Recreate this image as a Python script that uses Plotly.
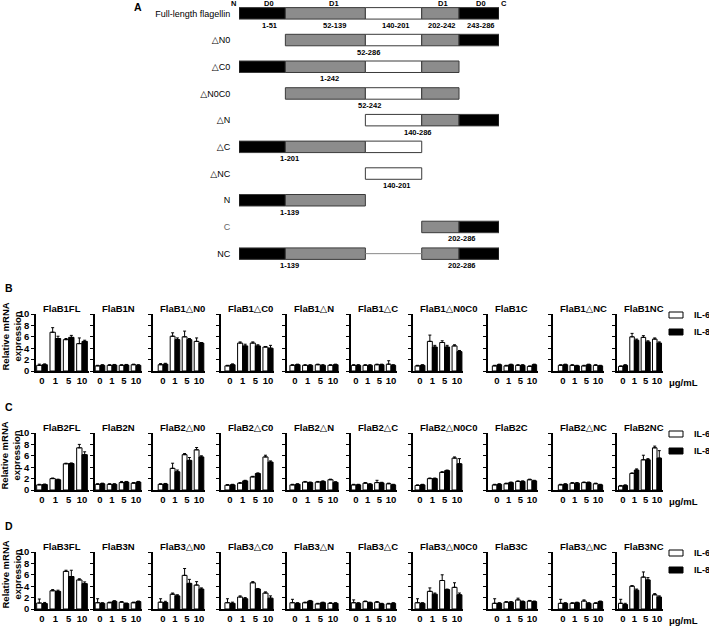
import plotly.graph_objects as go

W, H = 709, 628

# ---------------- Panel A data ----------------
domain_starts = [0, 51, 139, 201, 242]
domain_ends = [51, 139, 201, 242, 286]
domain_colors = ["#000000", "#8c8c8c", "#ffffff", "#8c8c8c", "#000000"]
header_labels = ["D0", "D1", "D1", "D0"]
header_x = [33, 104, 224, 266]

construct_labels = ["Full-length flagellin", "△N0", "△C0", "△N0C0", "△N",
                    "△C", "△NC", "N", "C", "NC"]
construct_domains = [[0, 1, 2, 3, 4], [1, 2, 3, 4], [0, 1, 2, 3], [1, 2, 3], [2, 3, 4],
                     [0, 1, 2], [2], [0, 1], [3, 4], [0, 1, 3, 4]]
range_labels = [["1-51", "52-139", "140-201", "202-242", "243-286"], ["52-286"], ["1-242"],
                ["52-242"], ["140-286"], ["1-201"], ["140-201"], ["1-139"], ["202-286"],
                ["1-139", "202-286"]]
range_label_x = [[34, 105, 173, 223, 266], [142], [99], [143], [197], [55], [174], [56],
                 [245], [56, 245]]

# ---------------- Panels B-D data ----------------
concentrations = ["0", "1", "5", "10"]
construct_names = ["FL", "N", "△N0", "△C0", "△N", "△C", "△N0C0", "C", "△NC", "NC"]
flagellins = ["FlaB1", "FlaB2", "FlaB3"]
panel_letters = ["B", "C", "D"]
series_names = ["IL-6", "IL-8"]

flab1_il6 = [[1.0, 6.8, 5.5, 4.8], [0.9, 1.0, 1.0, 1.1], [1.1, 6.1, 6.0, 5.2], [0.9, 4.9, 4.9, 4.2],
             [1.0, 1.0, 1.1, 1.0], [1.0, 1.0, 1.1, 1.2], [0.9, 5.2, 5.0, 4.4], [0.9, 0.9, 1.0, 0.8],
             [1.0, 1.0, 0.9, 1.0], [0.8, 6.0, 5.9, 5.6]]
flab1_il8 = [[1.1, 5.7, 5.9, 5.2], [1.0, 1.05, 1.05, 1.0], [1.2, 5.5, 5.5, 4.9], [1.1, 4.4, 4.4, 4.0],
             [1.1, 1.0, 1.0, 1.1], [1.0, 1.0, 1.1, 1.0], [1.0, 4.2, 4.2, 3.4], [1.1, 1.1, 1.0, 1.1],
             [1.1, 0.9, 1.1, 0.9], [1.0, 5.4, 5.1, 4.9]]
flab1_il6_err = [[0.2, 0.8, 0.2, 1.0], [0.1, 0.1, 0.1, 0.1], [0.2, 0.6, 1.0, 0.6], [0.1, 0.2, 0.2, 0.1],
                 [0.1, 0.1, 0.1, 0.1], [0.1, 0.1, 0.1, 0.6], [0.1, 1.1, 0.3, 0.2], [0.1, 0.1, 0.1, 0.1],
                 [0.1, 0.1, 0.1, 0.1], [0.1, 0.6, 0.3, 0.2]]
flab1_il8_err = [[0.15, 0.4, 0.35, 0.2], [0.1, 0.1, 0.1, 0.1], [0.15, 0.3, 0.2, 0.1], [0.15, 0.3, 0.2, 0.5],
                 [0.1, 0.1, 0.1, 0.1], [0.1, 0.1, 0.1, 0.1], [0.1, 0.3, 0.3, 0.2], [0.1, 0.1, 0.1, 0.1],
                 [0.1, 0.1, 0.1, 0.1], [0.1, 0.2, 0.2, 0.2]]

flab2_il6 = [[0.9, 2.0, 4.6, 7.4], [1.0, 1.0, 1.3, 1.2], [1.0, 3.8, 6.2, 7.05], [0.85, 1.2, 2.3, 5.8],
             [0.9, 1.4, 1.4, 1.8], [0.9, 1.2, 1.3, 1.1], [0.8, 2.0, 3.1, 5.6], [0.9, 1.1, 1.5, 1.8],
             [0.9, 1.2, 1.3, 1.1], [0.7, 2.9, 5.3, 7.4]]
flab2_il8 = [[0.95, 1.8, 4.65, 6.2], [1.1, 1.0, 1.4, 1.4], [1.05, 3.2, 5.2, 5.8], [0.9, 1.6, 2.9, 4.9],
             [1.0, 1.3, 1.5, 1.35], [0.9, 1.0, 1.25, 0.9], [0.9, 2.0, 3.4, 4.6], [1.0, 1.3, 1.5, 1.6],
             [1.0, 1.2, 1.3, 0.9], [0.8, 3.5, 5.3, 5.6]]
flab2_il6_err = [[0.1, 0.1, 0.1, 0.6], [0.1, 0.1, 0.2, 0.1], [0.1, 0.9, 0.2, 0.4], [0.1, 0.1, 0.1, 0.3],
                 [0.1, 0.1, 0.1, 0.1], [0.1, 0.1, 0.4, 0.1], [0.1, 0.1, 0.1, 0.2], [0.1, 0.1, 0.1, 0.1],
                 [0.1, 0.1, 0.1, 0.1], [0.1, 0.1, 0.8, 0.3]]
flab2_il8_err = [[0.1, 0.1, 0.1, 0.5], [0.1, 0.1, 0.1, 0.1], [0.1, 0.3, 0.5, 0.2], [0.1, 0.1, 0.1, 0.2],
                 [0.1, 0.1, 0.1, 0.1], [0.1, 0.1, 0.1, 0.1], [0.1, 0.1, 0.1, 0.9], [0.1, 0.1, 0.1, 0.1],
                 [0.1, 0.1, 0.1, 0.1], [0.1, 0.2, 0.2, 1.3]]

flab3_il6 = [[1.05, 3.2, 6.6, 5.1], [1.1, 1.1, 1.2, 1.1], [1.2, 2.6, 5.9, 4.2], [1.1, 2.1, 4.6, 2.8],
             [1.1, 1.1, 0.9, 1.0], [1.1, 1.3, 1.2, 0.9], [1.1, 3.1, 5.0, 3.8], [1.0, 1.2, 1.6, 1.4],
             [1.0, 1.0, 1.4, 1.0], [1.0, 4.0, 5.6, 2.5]]
flab3_il8 = [[0.95, 3.1, 5.7, 4.45], [1.0, 1.35, 0.95, 1.3], [1.15, 2.3, 4.5, 3.5], [1.0, 1.8, 3.5, 1.9],
             [1.0, 1.4, 1.1, 1.0], [1.0, 1.1, 0.9, 1.0], [1.0, 2.6, 3.4, 2.5], [1.0, 1.2, 1.3, 1.3],
             [1.0, 1.1, 1.0, 1.3], [0.8, 3.3, 5.1, 2.1]]
flab3_il6_err = [[0.7, 0.2, 0.2, 0.2], [0.7, 0.1, 0.1, 0.1], [0.6, 0.2, 1.2, 0.6], [0.7, 0.2, 0.2, 0.2],
                 [0.6, 0.1, 0.1, 0.1], [0.5, 0.1, 0.1, 0.1], [0.7, 0.6, 1.0, 0.8], [0.8, 0.1, 0.3, 0.1],
                 [0.7, 0.1, 0.2, 0.1], [0.7, 0.1, 0.9, 0.2]]
flab3_il8_err = [[0.2, 0.2, 1.1, 0.3], [0.1, 0.1, 0.1, 0.1], [0.2, 0.2, 0.7, 0.2], [0.2, 0.2, 0.1, 0.4],
                 [0.1, 0.1, 0.1, 0.1], [0.1, 0.1, 0.1, 0.1], [0.1, 0.2, 0.1, 0.3], [0.1, 0.1, 0.1, 0.1],
                 [0.1, 0.1, 0.1, 0.1], [0.2, 0.2, 0.4, 0.2]]

il6_rows = [flab1_il6, flab2_il6, flab3_il6]
il8_rows = [flab1_il8, flab2_il8, flab3_il8]
il6_err_rows = [flab1_il6_err, flab2_il6_err, flab3_il6_err]
il8_err_rows = [flab1_il8_err, flab2_il8_err, flab3_il8_err]

# ---------------- layout helpers (pixel geometry) ----------------
def fx(p):
    return p / W


def fy(p):
    return 1 - p / H


FONT = "Liberation Sans, Arial, DejaVu Sans"
BOLD = dict(family=FONT, color="black", weight="bold")

col_axis = [36, 95, 153, 221, 287, 351, 413, 488, 553, 617]
col_first = [42, 100, 163, 230, 295, 356, 420, 497, 563, 623]
col_last = [82, 136, 199, 268, 333, 391, 457, 532, 598, 657]
row_top = [314, 433, 552]      # pixel of value 10
row_bottom = [371, 490, 609]   # pixel of value 0

fig = go.Figure()
annotations = []
shapes = []

# ---------------- Panel A ----------------
for d in range(5):
    ys = [construct_labels[i] for i, doms in enumerate(construct_domains) if d in doms]
    fig.add_trace(go.Bar(
        orientation="h", y=ys, x=[domain_ends[d] - domain_starts[d]] * len(ys),
        base=[domain_starts[d]] * len(ys), width=0.43,
        marker=dict(color=domain_colors[d], line=dict(color="#3a3a3a", width=1)),
        xaxis="x", yaxis="y", showlegend=False, hoverinfo="skip"))
fig.add_trace(go.Scatter(x=[domain_ends[1], domain_starts[3]], y=["NC", "NC"], mode="lines",
                         line=dict(color="#8a8a8a", width=1), xaxis="x", yaxis="y",
                         showlegend=False, hoverinfo="skip"))

tick_text = [("<span style='color:#666'>C</span>" if c == "C" else c) for c in construct_labels]
fig.update_layout(
    xaxis=dict(domain=[fx(239), fx(499)], range=[0, 286], visible=False, anchor="y"),
    yaxis=dict(domain=[fy(267), fy(0)], type="category", categoryarray=construct_labels,
               range=[9.5, -0.5], showline=False, showgrid=False, zeroline=False,
               tickvals=construct_labels, ticktext=tick_text, ticks="outside", ticklen=6,
               tickcolor="rgba(0,0,0,0)", tickfont=dict(family=FONT, size=9, color="black"),
               anchor="x", automargin=False),
)
for i, labs in enumerate(range_labels):
    for lab, xpos in zip(labs, range_label_x[i]):
        annotations.append(dict(text=lab, x=xpos, y=construct_labels[i], xref="x", yref="y",
                                yshift=-12, showarrow=False, font=dict(BOLD, size=7.5)))
for lab, xpos in zip(header_labels, header_x):
    annotations.append(dict(text=lab, x=xpos, y=fy(4), xref="x", yref="paper",
                            xanchor="center", yanchor="middle",
                            showarrow=False, font=dict(BOLD, size=7.5)))
for lab, px in (("N", 233), ("C", 504)):
    annotations.append(dict(text=lab, x=fx(px), y=fy(4), xref="paper", yref="paper",
                            xanchor="center", yanchor="middle",
                            showarrow=False, font=dict(BOLD, size=7.5)))
annotations.append(dict(text="A", x=fx(138), y=fy(7), xref="paper", yref="paper",
                        xanchor="center", yanchor="middle",
                        showarrow=False, font=dict(BOLD, size=10.5)))

# ---------------- Panels B-D ----------------
n = 2
for r in range(3):
    for c in range(10):
        sp = (col_last[c] - col_first[c]) / 3.0
        lo = -(col_first[c] - col_axis[c]) / sp
        end_px = col_last[c] + sp / 2
        xa, ya = f"x{n}", f"y{n}"
        fig.add_trace(go.Bar(
            x=concentrations, y=il6_rows[r][c], name=series_names[0], width=0.4, offset=-0.4,
            marker=dict(color="white", line=dict(color="black", width=1)),
            error_y=dict(type="data", symmetric=False, array=il6_err_rows[r][c],
                         arrayminus=[0] * 4, color="black", thickness=1, width=1.5),
            xaxis=xa, yaxis=ya, showlegend=False, hoverinfo="skip"))
        fig.add_trace(go.Bar(
            x=concentrations, y=il8_rows[r][c], name=series_names[1], width=0.4, offset=0,
            marker=dict(color="black", line=dict(color="black", width=1)),
            error_y=dict(type="data", symmetric=False, array=il8_err_rows[r][c],
                         arrayminus=[0] * 4, color="black", thickness=1, width=1.5),
            xaxis=xa, yaxis=ya, showlegend=False, hoverinfo="skip"))
        fig.layout[f"xaxis{n}"] = dict(
            domain=[fx(col_axis[c]), fx(end_px)], range=[lo, 3.5], type="category",
            categoryarray=concentrations, showline=True, linecolor="black", linewidth=1.5,
            ticks="", showgrid=False, zeroline=False, anchor=ya,
            tickfont=dict(BOLD, size=9.5))
        fig.layout[f"yaxis{n}"] = dict(
            domain=[fy(row_bottom[r]), fy(row_top[r])], range=[0, 10], dtick=2,
            showline=True, linecolor="black", linewidth=1.5, ticks="outside", ticklen=3,
            tickwidth=1.2, tickcolor="black", showgrid=False, zeroline=False,
            showticklabels=(c == 0), tickfont=dict(BOLD, size=9.5), anchor=xa)
        annotations.append(dict(text=f"{flagellins[r]}{construct_names[c]}",
                                x=fx(col_axis[c] + 5), y=fy(row_top[r] - 6), xref="paper",
                                yref="paper", xanchor="left", yanchor="middle", showarrow=False,
                                font=dict(BOLD, size=9.5)))
        n += 1
    annotations.append(dict(text=panel_letters[r], x=fx(3), y=fy(row_top[r] - 26), xref="paper",
                            yref="paper", xanchor="left", yanchor="middle", showarrow=False,
                            font=dict(BOLD, size=10.5)))
    annotations.append(dict(text="Relative mRNA<br>expression", x=fx(10.5),
                            y=fy(row_bottom[r] - 34), xref="paper", yref="paper",
                            xanchor="center", yanchor="middle",
                            textangle=-90, showarrow=False, font=dict(BOLD, size=9.5)))
    annotations.append(dict(text="μg/mL", x=fx(667), y=fy(row_bottom[r] + 11), xref="paper",
                            yref="paper", xanchor="left", yanchor="middle", showarrow=False,
                            font=dict(BOLD, size=9.5)))
    # key (legend) for the row: open box = IL-6, filled box = IL-8
    for k, (fill, dy) in enumerate((("white", 1), ("black", 18))):
        yc = row_top[r] + dy
        shapes.append(dict(type="rect", xref="paper", yref="paper",
                           x0=fx(669), x1=fx(683), y0=fy(yc + 3), y1=fy(yc - 3),
                           fillcolor=fill, line=dict(color="black", width=1)))
        annotations.append(dict(text=series_names[k], x=fx(692), y=fy(yc), xref="paper",
                                yref="paper", xanchor="left", yanchor="middle",
                                showarrow=False, font=dict(BOLD, size=9)))

# margins must not grow to fit the edge texts, so paper == page pixels
fig.update_layout(
    autosize=True, margin=dict(l=0, r=0, t=0, b=0, autoexpand=False),
    paper_bgcolor="white", plot_bgcolor="white", barmode="overlay", showlegend=False,
    annotations=annotations, shapes=shapes, font=dict(family=FONT, color="black"),
)

fig.write_html("out.html", config={"displayModeBar": False, "responsive": False},
               default_width=f"{W}px; position:absolute; left:0px; top:0px",
               default_height=f"{H}px")
